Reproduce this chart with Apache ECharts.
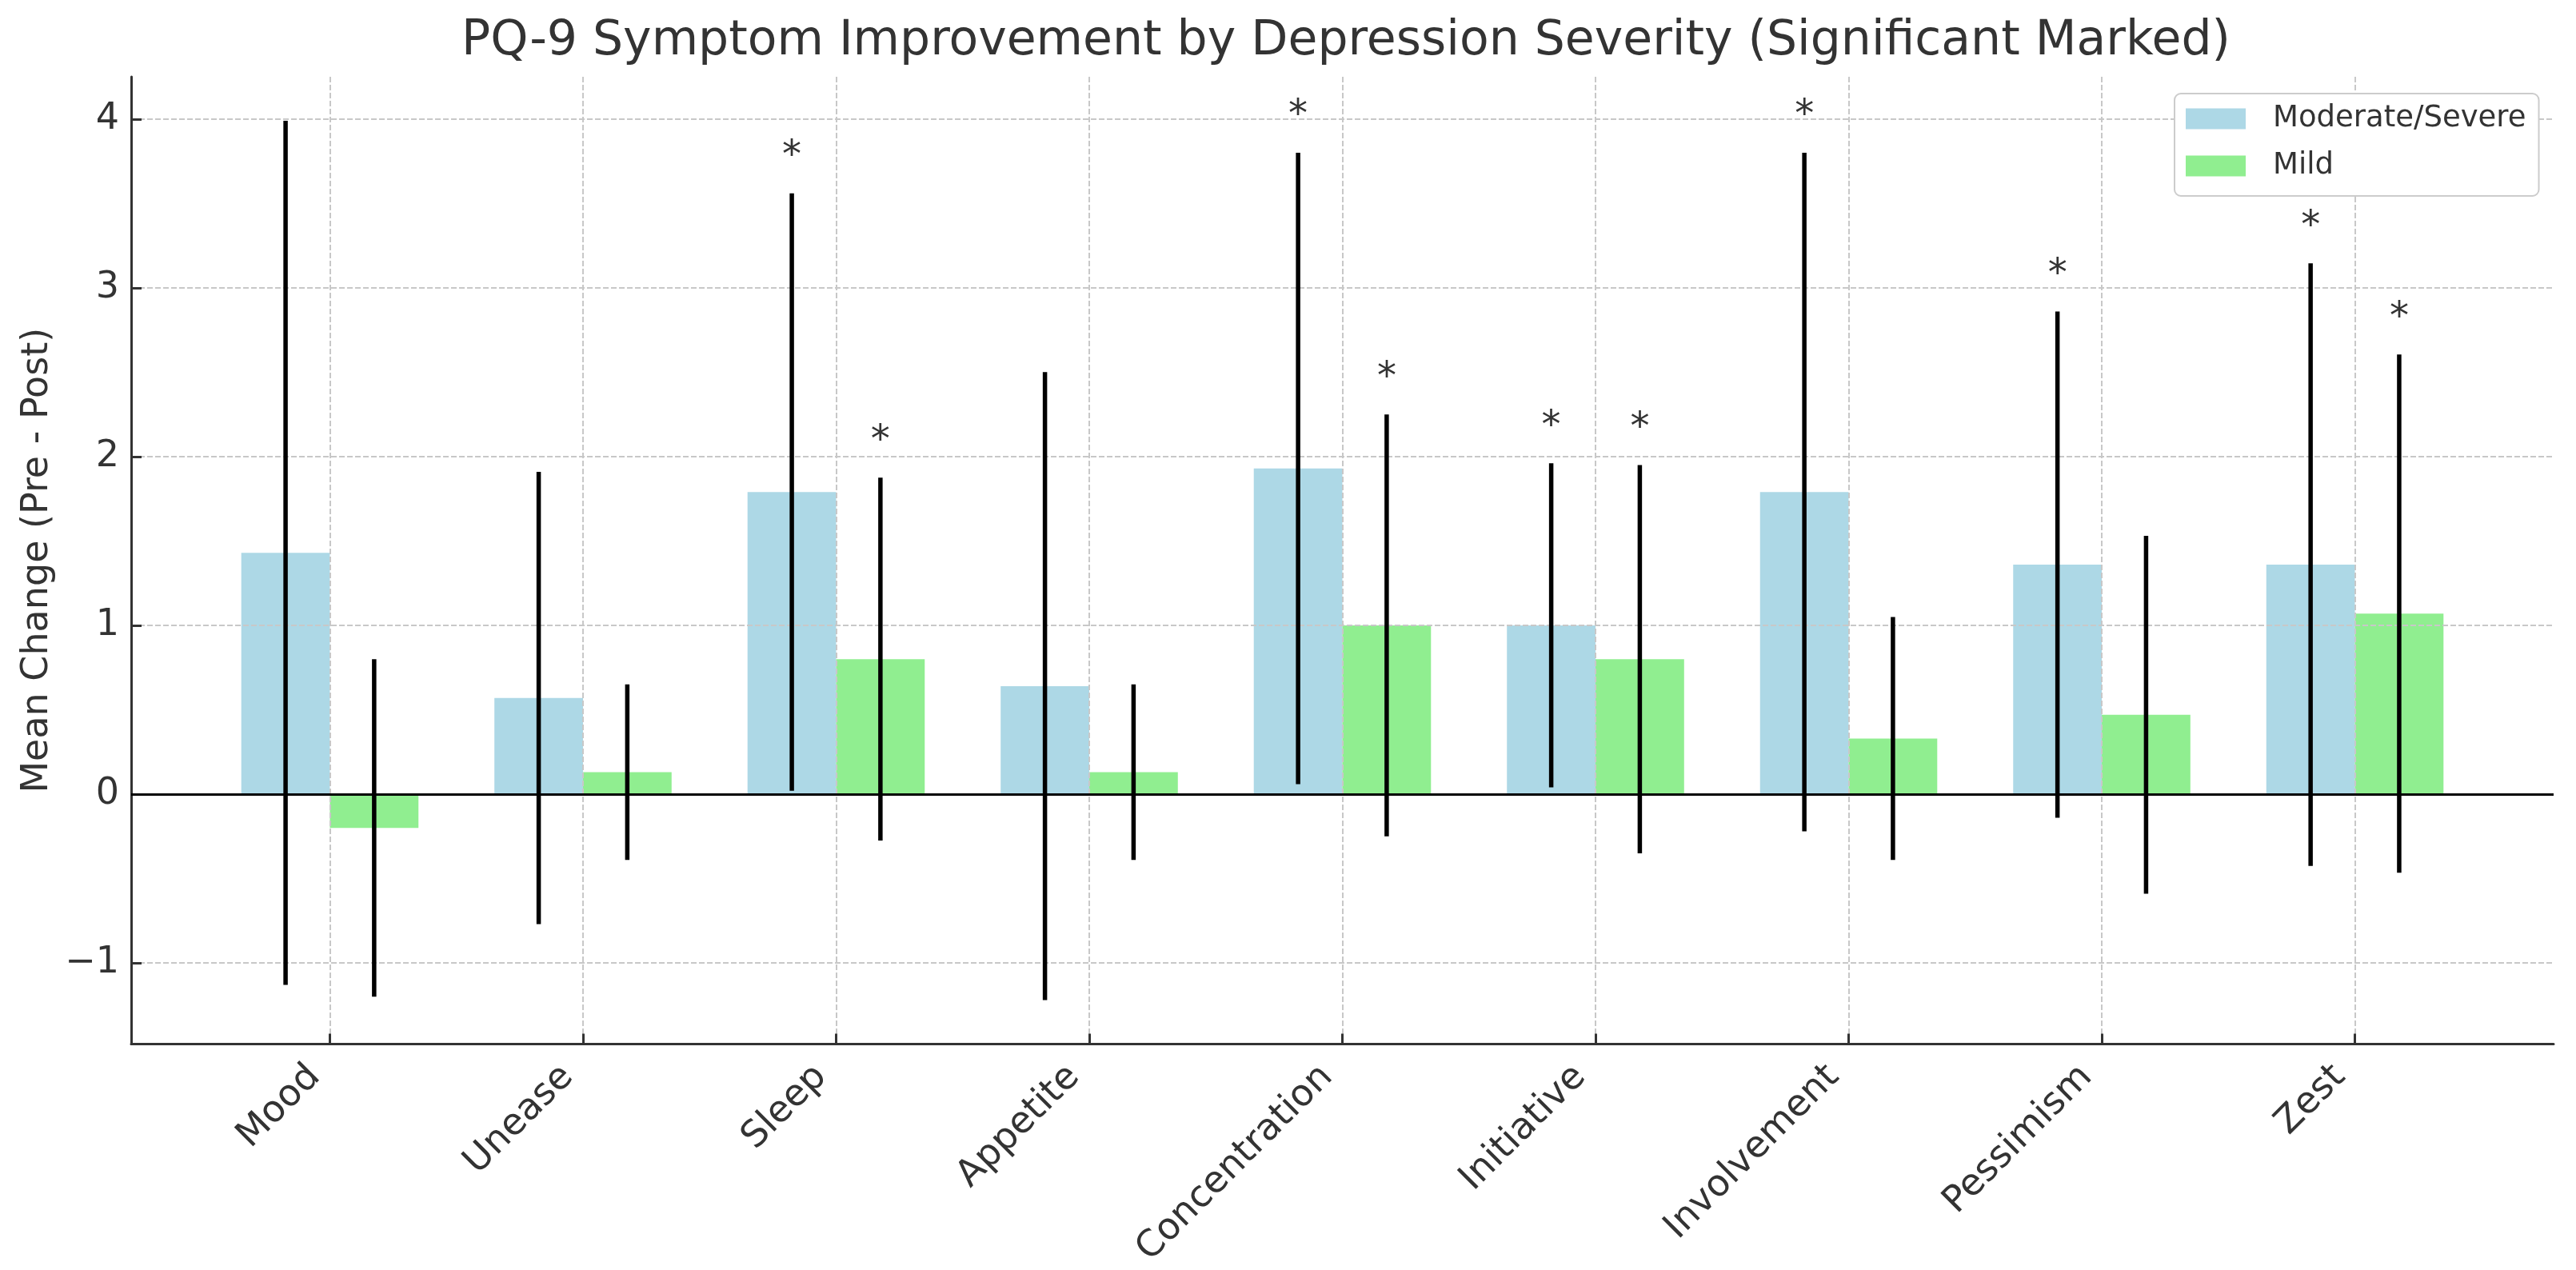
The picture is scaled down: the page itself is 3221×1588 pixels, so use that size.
<!DOCTYPE html>
<html lang="en">
<head>
<meta charset="utf-8">
<title>PQ-9 Symptom Improvement by Depression Severity</title>
<script src="https://cdn.jsdelivr.net/npm/echarts@6/dist/echarts.min.js"></script>
<style>
    html, body { margin: 0; padding: 0; background: #fff; }
    #chart { width: 3221px; height: 1588px; }
</style>
</head>
<body>
<div id="chart"></div>
<script>
    // symptom items on the x axis
    const symptoms = ['Mood', 'Unease', 'Sleep', 'Appetite', 'Concentration',
        'Initiative', 'Involvement', 'Pessimism', 'Zest'];

    // Moderate/Severe group: mean change and SD
    const modMean = [1.43, 0.57, 1.79, 0.64, 1.93, 1.00, 1.79, 1.36, 1.36];
    const modSd = [2.56, 1.34, 1.77, 1.86, 1.87, 0.96, 2.01, 1.50, 1.785];
    const modSig = [0, 0, 1, 0, 1, 1, 1, 1, 1];

    // Mild group
    const mildMean = [-0.20, 0.13, 0.80, 0.13, 1.00, 0.80, 0.33, 0.47, 1.07];
    const mildSd = [1.00, 0.52, 1.075, 0.52, 1.25, 1.15, 0.72, 1.06, 1.535];
    const mildSig = [0, 0, 1, 0, 1, 1, 0, 0, 1];

    const yTicks = [-1, 0, 1, 2, 3, 4];
    const xTicks = symptoms.map((s, i) => i);

    const FONT = 'DejaVu Sans';
    const TEXT = '#333333';

    const chart = echarts.init(document.getElementById('chart'));

    // error bar + significance star, drawn through the axes' own coord()
    function errorBars(offset) {
        return function (params, api) {
            const x = api.value(0) + offset;
            const m = api.value(1);
            const sd = api.value(2);
            const top = api.coord([x, m + sd]);
            const bot = api.coord([x, m - sd]);
            const children = [{
                type: 'line',
                shape: {x1: top[0], y1: top[1], x2: bot[0], y2: bot[1]},
                style: {stroke: '#000', lineWidth: 5.5}
            }];
            if (api.value(3)) {
                children.push({
                    type: 'text',
                    x: top[0],
                    y: top[1] - 45,
                    style: {
                        text: '*', fontSize: 48, fontFamily: FONT, fill: TEXT,
                        align: 'center', verticalAlign: 'middle'
                    }
                });
            }
            return {type: 'group', children: children};
        };
    }

    const gridLine = {show: true, lineStyle: {color: '#c8c8c8', width: 2, type: [7, 3]}};
    const spine = {show: true, onZero: false, lineStyle: {color: '#333', width: 3}};
    const tick = {show: true, inside: true, length: 13, lineStyle: {color: '#333', width: 3}};

    const option = {
        animation: false,
        backgroundColor: '#fff',
        title: {
            text: 'PQ-9 Symptom Improvement by Depression Severity (Significant Marked)',
            left: 1678,
            top: 17,
            textAlign: 'center',
            textStyle: {fontFamily: FONT, fontSize: 60, fontWeight: 'normal', color: TEXT}
        },
        legend: {
            orient: 'vertical',
            left: 2719,
            top: 117,
            padding: [13, 16, 19, 14],
            itemWidth: 75,
            itemHeight: 26,
            itemGap: 22,
            icon: 'rect',
            backgroundColor: '#fff',
            borderColor: '#cccccc',
            borderWidth: 2,
            borderRadius: 8,
            data: ['Moderate/Severe', 'Mild'],
            textStyle: {
                fontFamily: FONT, fontSize: 37, color: TEXT,
                padding: [0, 0, 0, 29]
            }
        },
        grid: {left: 164, right: 28, top: 96, bottom: 276, containLabel: false},
        xAxis: {
            type: 'value',
            min: -0.785,
            max: 8.785,
            z: 3,
            axisLine: spine,
            axisTick: Object.assign({customValues: xTicks}, tick),
            splitLine: gridLine,
            axisLabel: {
                customValues: xTicks,
                rotate: 45,
                margin: 15,
                padding: [0, 27, 0, 0],
                fontFamily: FONT,
                fontSize: 46,
                color: TEXT,
                formatter: v => symptoms[Math.round(v)]
            }
        },
        yAxis: {
            type: 'value',
            min: -1.48,
            max: 4.25,
            z: 3,
            name: 'Mean Change (Pre - Post)',
            nameLocation: 'middle',
            nameGap: 94,
            nameTextStyle: {fontFamily: FONT, fontSize: 46, color: TEXT},
            axisLine: spine,
            axisTick: Object.assign({customValues: yTicks}, tick),
            splitLine: gridLine,
            axisLabel: {
                customValues: yTicks,
                margin: 15,
                fontFamily: FONT,
                fontSize: 46,
                color: TEXT,
                formatter: v => (v < 0 ? '\u2212' + (-v) : String(v))
            }
        },
        series: [
            {
                name: 'Moderate/Severe',
                type: 'bar',
                barWidth: '35%',
                barGap: '0%',
                z: 2,
                itemStyle: {color: '#ADD8E6'},
                data: symptoms.map((s, i) => [i, modMean[i]]),
                markLine: {
                    silent: true,
                    symbol: ['none', 'none'],
                    label: {show: false},
                    lineStyle: {color: '#000', width: 3, type: 'solid'},
                    data: [{yAxis: 0}]
                }
            },
            {
                name: 'Mild',
                type: 'bar',
                barWidth: '35%',
                barGap: '0%',
                z: 2,
                itemStyle: {color: '#90EE90'},
                data: symptoms.map((s, i) => [i, mildMean[i]])
            },
            {
                name: 'Moderate/Severe SD',
                type: 'custom',
                z: 5,
                clip: false,
                renderItem: errorBars(-0.175),
                encode: {x: 0, y: 1},
                data: symptoms.map((s, i) => [i, modMean[i], modSd[i], modSig[i]])
            },
            {
                name: 'Mild SD',
                type: 'custom',
                z: 5,
                clip: false,
                renderItem: errorBars(0.175),
                encode: {x: 0, y: 1},
                data: symptoms.map((s, i) => [i, mildMean[i], mildSd[i], mildSig[i]])
            }
        ]
    };

    chart.setOption(option);
</script>
</body>
</html>
